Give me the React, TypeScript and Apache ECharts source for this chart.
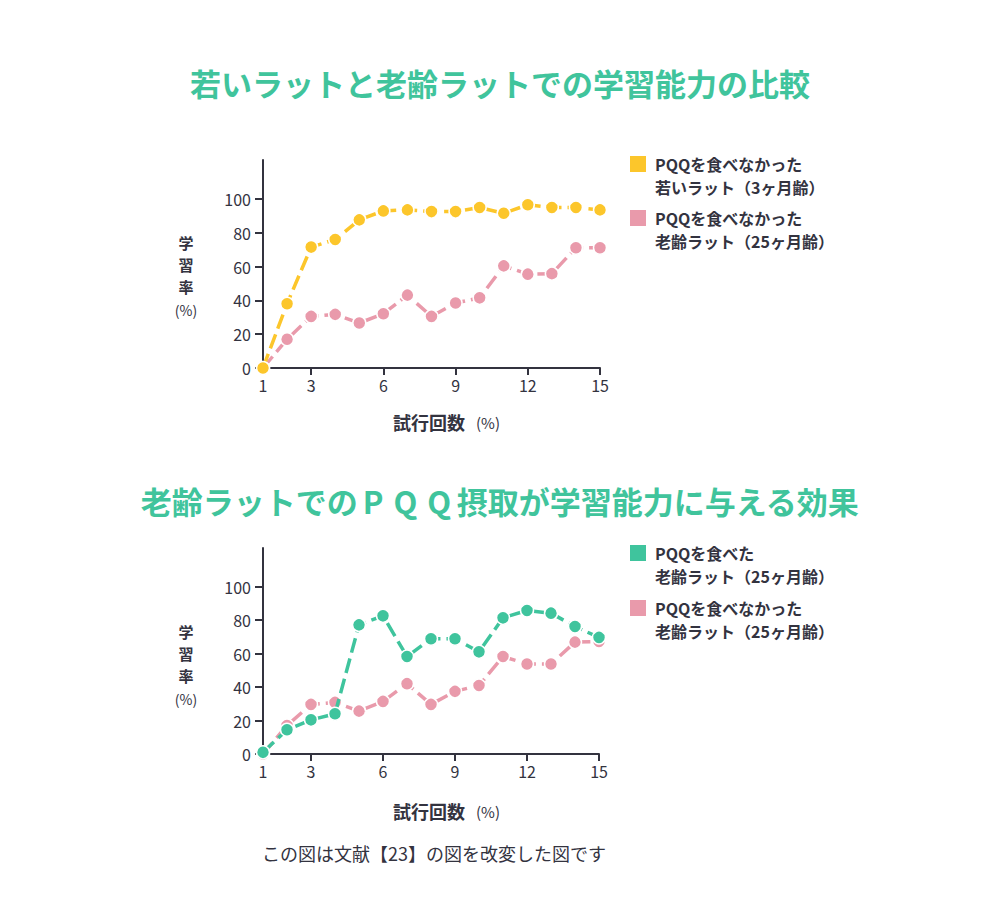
import React, { useEffect, useRef } from "react";
import * as echarts from "echarts";

const trials = ["1", "2", "3", "4", "5", "6", "7", "8", "9", "10", "11", "12", "13", "14", "15"];
const shownTickIdx = [0, 2, 5, 8, 11, 14];
const yTicks = [0, 20, 40, 60, 80, 100];

const youngNoPQQ = [0, 38, 71.5, 76, 87.6, 92.9, 93.5, 92.5, 92.5, 94.9, 91.5, 96.5, 94.9, 94.9, 93.5];
const oldNoPQQTop = [0, 17, 30.5, 31.7, 26.6, 32.1, 43.1, 30.5, 38.4, 41.5, 60.4, 55.5, 55.8, 71.1, 71.1];
const oldPQQ = [1, 14.5, 20.4, 24, 77.1, 82.5, 58.2, 68.8, 68.8, 61, 81.3, 85.7, 84.1, 76.1, 69.6];
const oldNoPQQBottom = [0, 17, 29.6, 30.8, 25.6, 31.4, 42, 29.6, 37.4, 40.9, 58.2, 53.7, 53.7, 66.8, 67.2];

const title1 = "若いラットと老齢ラットでの学習能力の比較";
const title2a = "老齢ラットでの";
const title2b = ["P", "Q", "Q"];
const title2c = "摂取が学習能力に与える効果";
const footnote = "この図は文献【23】の図を改変した図です";
const yNameChars = ["学", "習", "率"];

const YELLOW = "#fcc62b";
const PINK = "#e99aab";
const GREEN = "#3fc49d";
const TITLE_GREEN = "#40c49c";
const DARK = "#33333f";
const FONT = "'Noto Sans CJK JP', 'Noto Sans', sans-serif";

const xAxisCfg = (gridIndex: number) => ({
  type: "category" as const,
  gridIndex,
  data: trials,
  boundaryGap: false,
  axisLine: { lineStyle: { color: DARK, width: 2 } },
  axisTick: {
    interval: (i: number) => shownTickIdx.includes(i),
    length: 7,
    lineStyle: { color: DARK, width: 2 },
  },
  axisLabel: {
    interval: (i: number) => shownTickIdx.includes(i),
    color: DARK,
    fontSize: 16,
    fontFamily: FONT,
    margin: 9,
  },
  splitLine: { show: false },
});

const yAxisCfg = (gridIndex: number) => ({
  type: "value" as const,
  gridIndex,
  min: 0,
  max: 123,
  axisLine: { show: true, lineStyle: { color: DARK, width: 2 } },
  axisTick: {
    show: true,
    customValues: yTicks,
    length: 8,
    lineStyle: { color: DARK, width: 2 },
  },
  axisLabel: {
    customValues: yTicks,
    color: DARK,
    fontSize: 16,
    fontFamily: FONT,
    margin: 12,
  },
  splitLine: { show: false },
});

const lineSeries = (name: string, data: number[], color: string, idx: number, z: number) => ({
  type: "line" as const,
  name,
  xAxisIndex: idx,
  yAxisIndex: idx,
  data,
  z,
  symbol: "circle",
  symbolSize: 13,
  itemStyle: { color, borderColor: "#ffffff", borderWidth: 1.5 },
  lineStyle: { color, width: 3.5, type: [15, 6] as number[] },
});

const legendItem = (x: number, y: number, color: string, l1: string, l2: string) => [
  { type: "rect", left: x, top: y, shape: { width: 16, height: 16 }, style: { fill: color } },
  {
    type: "text",
    x: x + 25,
    y: y + 8,
    style: { text: l1, fill: DARK, font: `bold 16px ${FONT}`, verticalAlign: "middle" },
  },
  {
    type: "text",
    x: x + 25,
    y: y + 31,
    style: { text: l2, fill: DARK, font: `bold 16px ${FONT}`, verticalAlign: "middle" },
  },
];

const yName = (cx: number, top: number) => [
  ...yNameChars.map((c, i) => ({
    type: "text",
    x: cx,
    y: top + i * 22,
    style: { text: c, fill: DARK, font: `bold 15px ${FONT}`, align: "center", verticalAlign: "middle" },
  })),
  {
    type: "text",
    x: cx,
    y: top + 3 * 22 + 2,
    style: { text: "(%)", fill: DARK, font: `14px ${FONT}`, align: "center", verticalAlign: "middle" },
  },
];

const xName = (left: number, cy: number) => [
  {
    type: "text",
    x: left,
    y: cy,
    style: { text: "試行回数", fill: DARK, font: `bold 18px ${FONT}`, verticalAlign: "middle" },
  },
  {
    type: "text",
    x: left + 83,
    y: cy,
    style: { text: "(%)", fill: DARK, font: `15px ${FONT}`, verticalAlign: "middle" },
  },
];

const titleStyle = { color: TITLE_GREEN, fontSize: 31, fontWeight: "bold" as const, fontFamily: FONT };

export default function App() {
  const ref = useRef<HTMLDivElement>(null);
  useEffect(() => {
    if (!ref.current) return;
    const chart = echarts.init(ref.current, undefined, { renderer: "svg" });
    chart.setOption({
      animation: false,
      backgroundColor: "#ffffff",
      title: [
        {
          text: title1,
          left: "center",
          top: 62,
          textStyle: titleStyle,
        },
        {
          text: title2a + title2b.map((c) => `{q|${c}}`).join("") + title2c,
          left: "center",
          top: 480,
          textStyle: {
            ...titleStyle,
            rich: {
              q: { ...titleStyle, padding: [0, 5, 0, 5] },
            },
          },
        },
      ],
      grid: [
        { left: 263, top: 160, width: 337, height: 208 },
        { left: 263, top: 548, width: 336, height: 206 },
      ],
      xAxis: [xAxisCfg(0), xAxisCfg(1)],
      yAxis: [yAxisCfg(0), yAxisCfg(1)],
      series: [
        lineSeries("PQQを食べなかった 老齢ラット（25ヶ月齢）", oldNoPQQTop, PINK, 0, 2),
        lineSeries("PQQを食べなかった 若いラット（3ヶ月齢）", youngNoPQQ, YELLOW, 0, 3),
        lineSeries("PQQを食べなかった 老齢ラット（25ヶ月齢） ", oldNoPQQBottom, PINK, 1, 2),
        lineSeries("PQQを食べた 老齢ラット（25ヶ月齢）", oldPQQ, GREEN, 1, 3),
      ],
      graphic: [
        ...legendItem(630, 156, YELLOW, "PQQを食べなかった", "若いラット（3ヶ月齢）"),
        ...legendItem(630, 210, PINK, "PQQを食べなかった", "老齢ラット（25ヶ月齢）"),
        ...legendItem(630, 545, GREEN, "PQQを食べた", "老齢ラット（25ヶ月齢）"),
        ...legendItem(630, 600, PINK, "PQQを食べなかった", "老齢ラット（25ヶ月齢）"),
        ...yName(186, 242),
        ...yName(186, 631),
        ...xName(393, 422),
        ...xName(393, 811),
        {
          type: "text",
          x: 434,
          y: 853,
          style: { text: footnote, fill: DARK, font: `18px ${FONT}`, align: "center", verticalAlign: "middle" },
        },
      ],
    });
    return () => chart.dispose();
  }, []);
  return (
    <div
      ref={ref}
      style={{ position: "absolute", left: 0, top: 0, width: 1000, height: 900 }}
    />
  );
}
